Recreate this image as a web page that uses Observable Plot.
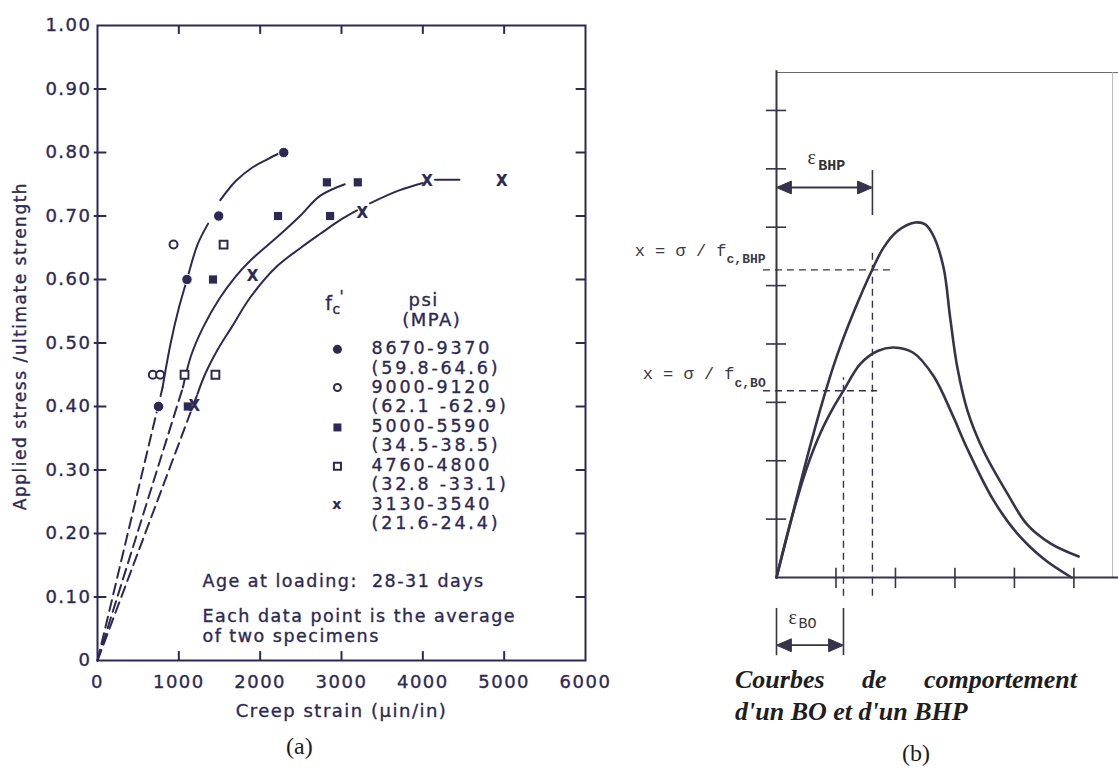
<!DOCTYPE html>
<html>
<head>
<meta charset="utf-8">
<script src="https://cdn.jsdelivr.net/npm/d3@7"></script>
<script src="https://cdn.jsdelivr.net/npm/@observablehq/plot@0.6"></script>
<style>
  body { margin: 0; background: #fff; }
  #root { position: relative; width: 1118px; height: 769px; background: #fff; overflow: hidden; }
  #root svg { position: absolute; top: 0; overflow: visible; }
  .lab { position: absolute; font-family: "Liberation Serif", "Times New Roman", serif; color: #1e1e1e; white-space: nowrap; }
</style>
</head>
<body>
<div id="root"></div>
<script>
// ================= Panel (a) data =================
const xTicksA = [0, 1000, 2000, 3000, 4000, 5000, 6000];
const yTicksA = [0, 0.1, 0.2, 0.3, 0.4, 0.5, 0.6, 0.7, 0.8, 0.9, 1.0];

// markers: creep strain (µin/in), stress / strength ratio
const strainFilledCircle = [750, 1100, 1490, 2290];
const ratioFilledCircle  = [0.40, 0.60, 0.70, 0.80];
const strainOpenCircle   = [680, 770, 935];
const ratioOpenCircle    = [0.45, 0.45, 0.655];
const strainFilledSquare = [1110, 1420, 2220, 2820, 2860, 3200];
const ratioFilledSquare  = [0.40, 0.60, 0.70, 0.753, 0.70, 0.753];
const strainOpenSquare   = [1070, 1450, 1550];
const ratioOpenSquare    = [0.45, 0.45, 0.655];
const strainCross        = [1200, 1915, 3265, 4060, 4980];
const ratioCross         = [0.40, 0.605, 0.705, 0.755, 0.755];

// fitted curves (solid)
const fitHighA = [[800, 0.43], [900, 0.50], [1000, 0.555], [1100, 0.60], [1230, 0.655], [1360, 0.688]];
const fitHighB = [[1510, 0.725], [1700, 0.755], [1900, 0.776], [2100, 0.79], [2250, 0.80]];
const fitMid   = [[1050, 0.43], [1150, 0.48], [1300, 0.525], [1500, 0.57], [1700, 0.605], [1880, 0.63], [2220, 0.668], [2490, 0.70], [2740, 0.732], [3040, 0.75]];
const fitLowA  = [[1230, 0.42], [1320, 0.45], [1480, 0.49], [1650, 0.525], [1880, 0.572], [2200, 0.62], [2500, 0.65], [2740, 0.672], [3000, 0.695], [3190, 0.709]];
const fitLowB  = [[3350, 0.72], [3700, 0.74], [4000, 0.752]];
const fitLowC  = [[4150, 0.757], [4450, 0.757]];
// dashed extrapolations to the origin
const dashHigh = [[0, 0], [800, 0.43]];
const dashMid  = [[0, 0], [1050, 0.43]];
const dashLow  = [[0, 0], [1230, 0.42]];

const legendPsi = ["8670-9370", "9000-9120", "5000-5590", "4760-4800", "3130-3540"];
const legendMPa = ["(59.8-64.6)", "(62.1 -62.9)", "(34.5-38.5)", "(32.8 -33.1)", "(21.6-24.4)"];
const legendSymbols = ["filledCircle", "openCircle", "filledSquare", "openSquare", "cross"];

// ================= Panel (b) data =================
const xTicksB = [1, 2, 3, 4, 5];
const yTicksB = [1, 2, 3, 4, 5, 6, 7, 8];
const curveBHP = [[0, 0], [0.25, 1.0], [0.5, 2.0], [0.77, 3.0], [1.0, 3.75], [1.3, 4.55], [1.613, 5.28], [1.8, 5.65], [2.03, 5.93], [2.33, 6.08], [2.5, 6.05], [2.64, 5.85], [2.81, 5.3], [2.92, 4.45], [3.04, 3.6], [3.21, 2.86], [3.48, 2.17], [3.88, 1.44], [4.22, 0.9], [4.61, 0.58], [5.08, 0.36]];
const curveBO  = [[0, 0], [0.25, 1.0], [0.5, 1.85], [0.75, 2.5], [0.95, 2.9], [1.126, 3.2], [1.41, 3.66], [1.7, 3.88], [1.97, 3.94], [2.3, 3.85], [2.64, 3.45], [2.97, 2.76], [3.21, 2.2], [3.65, 1.32], [4.05, 0.75], [4.49, 0.32], [4.96, 0]];
const levelBHP = 5.27, strainBHP = 1.613;
const levelBO = 3.2, strainBO = 1.126;

// ================= helpers =================
const pts = (arr, s) => arr.map(([x, y]) => ({x, y, s}));
const zipXY = (xs, ys) => xs.map((x, i) => ({x, y: ys[i]}));

const ink = "#2d2955";
const sansA = "'DejaVu Sans', 'Noto Sans', sans-serif";

const solidA = [...pts(fitHighA, "hA"), ...pts(fitHighB, "hB"), ...pts(fitMid, "m"), ...pts(fitLowA, "lA"), ...pts(fitLowB, "lB"), ...pts(fitLowC, "lC")];
const dashedA = [...pts(dashHigh, "h"), ...pts(dashMid, "m"), ...pts(dashLow, "l")];

// legend rows (first line of each entry), in stress-ratio units
const legendRowsY = [0.49, 0.43, 0.367, 0.306, 0.245];
const legendRows = legendSymbols.map((sym, i) => ({sym, y: legendRowsY[i]}));
const legendBlock = legendPsi.map((t, i) => t + "\n" + legendMPa[i]).join("\n");
const legendMarkX = 2950, legendTextX = 3370;

const txt = (extra) => Object.assign({fill: ink, stroke: ink, strokeWidth: 0.35, fontFamily: sansA}, extra);

const plotA = Plot.plot({
  width: 600, height: 769,
  marginLeft: 97, marginRight: 15, marginTop: 25, marginBottom: 109,
  x: {domain: [0, 6000], axis: null},
  y: {domain: [0, 1], axis: null},
  style: {fontFamily: sansA, background: "transparent", color: ink, letterSpacing: "1.5px"},
  marks: [
    Plot.frame({stroke: ink, strokeWidth: 2}),
    // inward ticks on all four sides
    Plot.ruleX(xTicksA.slice(1, -1), {x: d => d, y1: 0, y2: 0.014, stroke: ink, strokeWidth: 2}),
    Plot.ruleX(xTicksA.slice(1, -1), {x: d => d, y1: 1, y2: 0.986, stroke: ink, strokeWidth: 2}),
    Plot.ruleY(yTicksA.slice(1, -1), {y: d => d, x1: -40, x2: 115, stroke: ink, strokeWidth: 2}),
    Plot.ruleY(yTicksA.slice(1, -1), {y: d => d, x1: 6000, x2: 5885, stroke: ink, strokeWidth: 2}),
    // tick labels
    Plot.text(xTicksA, txt({x: d => d, y: 0, text: d => String(d), dy: 22, fontSize: 18})),
    Plot.text(yTicksA, txt({x: 0, y: d => d, text: d => d === 0 ? "0" : d.toFixed(2), textAnchor: "end", dx: -6, fontSize: 18})),
    // axis titles
    Plot.text(["Applied stress /ultimate strength"], txt({frameAnchor: "left", textAnchor: "middle", dx: -77, dy: 3, rotate: -90, fontSize: 17})),
    Plot.text(["Creep strain (\u00b5in/in)"], txt({frameAnchor: "bottom", lineAnchor: "middle", dy: 51, fontSize: 18})),
    // dashed and solid curves
    Plot.line(dashedA, {x: "x", y: "y", z: "s", stroke: ink, strokeWidth: 2, strokeDasharray: "11,6"}),
    Plot.line(solidA, {x: "x", y: "y", z: "s", stroke: ink, strokeWidth: 2, curve: "catmull-rom"}),
    // data markers
    Plot.dot(zipXY(strainFilledCircle, ratioFilledCircle), {x: "x", y: "y", r: 5.2, fill: ink, stroke: "white", strokeWidth: 1}),
    Plot.dot(zipXY(strainOpenCircle, ratioOpenCircle), {x: "x", y: "y", r: 4, fill: "white", stroke: ink, strokeWidth: 2}),
    Plot.dot(zipXY(strainFilledSquare, ratioFilledSquare), {x: "x", y: "y", symbol: "square", r: 5.2, fill: ink, stroke: "white", strokeWidth: 1}),
    Plot.dot(zipXY(strainOpenSquare, ratioOpenSquare), {x: "x", y: "y", symbol: "square", r: 4.4, fill: "white", stroke: ink, strokeWidth: 2}),
    Plot.text(zipXY(strainCross, ratioCross), txt({x: "x", y: "y", text: () => "X", fontSize: 15, fontWeight: "bold", strokeWidth: 0.2})),
    // legend header
    Plot.text(["f"], txt({x: 2850, y: 0.562, fontSize: 19})),
    Plot.text(["c"], txt({x: 2945, y: 0.562, dy: 6, fontSize: 14})),
    Plot.text(["'"], txt({x: 3010, y: 0.562, dy: -6, fontSize: 15})),
    Plot.text(["psi"], txt({x: 4010, y: 0.568, fontSize: 18})),
    Plot.text(["(MPA)"], txt({x: 4110, y: 0.536, fontSize: 18})),
    // legend symbols
    Plot.dot(legendRows.filter(d => d.sym === "filledCircle"), {x: legendMarkX, y: "y", r: 4.5, fill: ink}),
    Plot.dot(legendRows.filter(d => d.sym === "openCircle"), {x: legendMarkX, y: "y", r: 3.5, fill: "white", stroke: ink, strokeWidth: 2}),
    Plot.dot(legendRows.filter(d => d.sym === "filledSquare"), {x: legendMarkX, y: "y", symbol: "square", r: 4.5, fill: ink}),
    Plot.dot(legendRows.filter(d => d.sym === "openSquare"), {x: legendMarkX, y: "y", symbol: "square", r: 4, fill: "white", stroke: ink, strokeWidth: 2}),
    Plot.text(legendRows.filter(d => d.sym === "cross"), txt({x: legendMarkX, y: "y", text: () => "x", fontSize: 14, fontWeight: "bold", strokeWidth: 0.2})),
    // legend labels (one block, ten lines)
    Plot.text([legendBlock], txt({x: legendTextX, y: 0.49, textAnchor: "start", lineAnchor: "top", dy: -9, fontSize: 17.5, lineHeight: 1.11})),
    // notes
    Plot.text(["Age at loading:  28-31 days"], txt({x: 1290, y: 0.125, textAnchor: "start", fontSize: 17.5})),
    Plot.text(["Each data point is the average"], txt({x: 1290, y: 0.07, textAnchor: "start", fontSize: 17.5})),
    Plot.text(["of two specimens"], txt({x: 1290, y: 0.038, textAnchor: "start", fontSize: 17.5}))
  ]
});
plotA.style.left = "0px";
// wider lettering for the legend block
d3.select(plotA).selectAll("text").filter(function() { return this.textContent.includes("8670"); }).attr("letter-spacing", "2.8px");

// ================= Panel (b) =================
const inkB = "#36334a";
const mono = "'Liberation Mono', 'DejaVu Sans Mono', monospace";
const serif = "'Liberation Serif', serif";
// filled arrow heads: tip at a dimension end, pointing outward
const headLen = 0.25, headHalf = 0.11;
const headPts = (xTip, y, dir, id) => [
  {x: xTip, y, id},
  {x: xTip + dir * headLen, y: y + headHalf, id},
  {x: xTip + dir * headLen, y: y - headHalf, id},
  {x: xTip, y, id}
];
const arrowY_BHP = 6.68, arrowY_BO = -1.16;
const heads = [
  ...headPts(0, arrowY_BHP, 1, "h1"), ...headPts(strainBHP, arrowY_BHP, -1, "h2"),
  ...headPts(0, arrowY_BO, 1, "h3"), ...headPts(strainBO, arrowY_BO, -1, "h4")
];

const plotB = Plot.plot({
  width: 518, height: 769,
  marginLeft: 176, marginRight: 0, marginTop: 72, marginBottom: 192,
  x: {domain: [0, 5.75], axis: null},
  y: {domain: [0, 8.65], axis: null},
  style: {background: "transparent", color: inkB},
  marks: [
    Plot.ruleY([8.65], {x1: 0, x2: 5.75, stroke: "#6a6878", strokeWidth: 1.2}),
    Plot.ruleX([5.65], {y1: 0, y2: 8.65, stroke: "#b8b8c0", strokeWidth: 1}),
    Plot.ruleX([0], {y1: 0, y2: 8.68, stroke: inkB, strokeWidth: 2}),
    Plot.ruleY([0], {x1: 0, x2: 5.75, stroke: inkB, strokeWidth: 2}),
    Plot.ruleY(yTicksB, {y: d => d, x1: -0.17, x2: 0.17, stroke: inkB, strokeWidth: 1.6}),
    Plot.ruleX(xTicksB, {x: d => d, y1: -0.19, y2: 0.16, stroke: inkB, strokeWidth: 1.6}),
    // dashed guide lines
    Plot.ruleY([levelBHP], {x1: -0.22, x2: 1.93, stroke: inkB, strokeWidth: 1.4, strokeDasharray: "7,5"}),
    Plot.ruleY([levelBO], {x1: -0.22, x2: 1.70, stroke: inkB, strokeWidth: 1.4, strokeDasharray: "7,5"}),
    Plot.ruleX([strainBHP], {y1: -0.32, y2: levelBHP + 0.35, stroke: inkB, strokeWidth: 1.4, strokeDasharray: "7,5"}),
    Plot.ruleX([strainBO], {y1: -0.32, y2: levelBO + 0.22, stroke: inkB, strokeWidth: 1.4, strokeDasharray: "7,5"}),
    // behaviour curves
    Plot.line(pts(curveBHP, "BHP"), {x: "x", y: "y", stroke: inkB, strokeWidth: 2.6, curve: "catmull-rom"}),
    Plot.line(pts(curveBO, "BO"), {x: "x", y: "y", stroke: inkB, strokeWidth: 2.6, curve: "catmull-rom"}),
    // epsilon BHP dimension
    Plot.ruleX([strainBHP], {y1: 6.2, y2: 6.97, stroke: inkB, strokeWidth: 1.6}),
    Plot.ruleY([arrowY_BHP], {x1: 0.1, x2: strainBHP - 0.1, stroke: inkB, strokeWidth: 1.8}),
    Plot.text(["\u03b5"], {x: 0.52, y: 7.19, textAnchor: "start", fontSize: 20, fill: "#333", fontFamily: serif}),
    Plot.text(["BHP"], {x: 0.70, y: 7.07, textAnchor: "start", fontSize: 15, fontWeight: "bold", fill: "#333", fontFamily: mono}),
    // epsilon BO dimension
    Plot.ruleX([0, strainBO], {x: d => d, y1: -0.53, y2: -1.34, stroke: inkB, strokeWidth: 1.6}),
    Plot.ruleY([arrowY_BO], {x1: 0.1, x2: strainBO - 0.1, stroke: inkB, strokeWidth: 1.8}),
    Plot.text(["\u03b5"], {x: 0.2, y: -0.68, textAnchor: "start", fontSize: 20, fill: "#333", fontFamily: serif}),
    Plot.text(["BO"], {x: 0.37, y: -0.79, textAnchor: "start", fontSize: 15, fill: "#333", fontFamily: mono}),
    // arrow heads
    Plot.line(heads, {x: "x", y: "y", z: "id", fill: inkB, stroke: inkB, strokeWidth: 1}),
    // level labels
    Plot.text(["x = \u03c3 / f"], {x: -0.84, y: 5.6, textAnchor: "end", fontSize: 17, fill: "#3a3a48", fontFamily: mono}),
    Plot.text(["c,BHP"], {x: -0.84, y: 5.46, textAnchor: "start", fontSize: 13, fontWeight: "bold", fill: "#3a3a48", fontFamily: mono}),
    Plot.text(["x = \u03c3 / f"], {x: -0.706, y: 3.5, textAnchor: "end", fontSize: 17, fill: "#3a3a48", fontFamily: mono}),
    Plot.text(["c,BO"], {x: -0.706, y: 3.34, textAnchor: "start", fontSize: 13, fontWeight: "bold", fill: "#3a3a48", fontFamily: mono})
  ]
});
plotB.style.left = "600px";

const root = document.getElementById("root");
root.appendChild(plotA);
root.appendChild(plotB);

function addLabel(html, css) {
  const d = document.createElement("div");
  d.className = "lab";
  d.innerHTML = html;
  Object.assign(d.style, css);
  root.appendChild(d);
}
addLabel("(a)", {left: "286px", top: "733px", fontSize: "24px"});
addLabel("(b)", {left: "902px", top: "740px", fontSize: "24px"});
addLabel("Courbes de comportement", {left: "735px", top: "665px", width: "342px", fontSize: "26px", fontWeight: "bold", fontStyle: "italic", textAlign: "justify", textAlignLast: "justify"});
addLabel("d'un BO et d'un BHP", {left: "735px", top: "697px", fontSize: "26px", fontWeight: "bold", fontStyle: "italic"});
</script>
</body>
</html>
